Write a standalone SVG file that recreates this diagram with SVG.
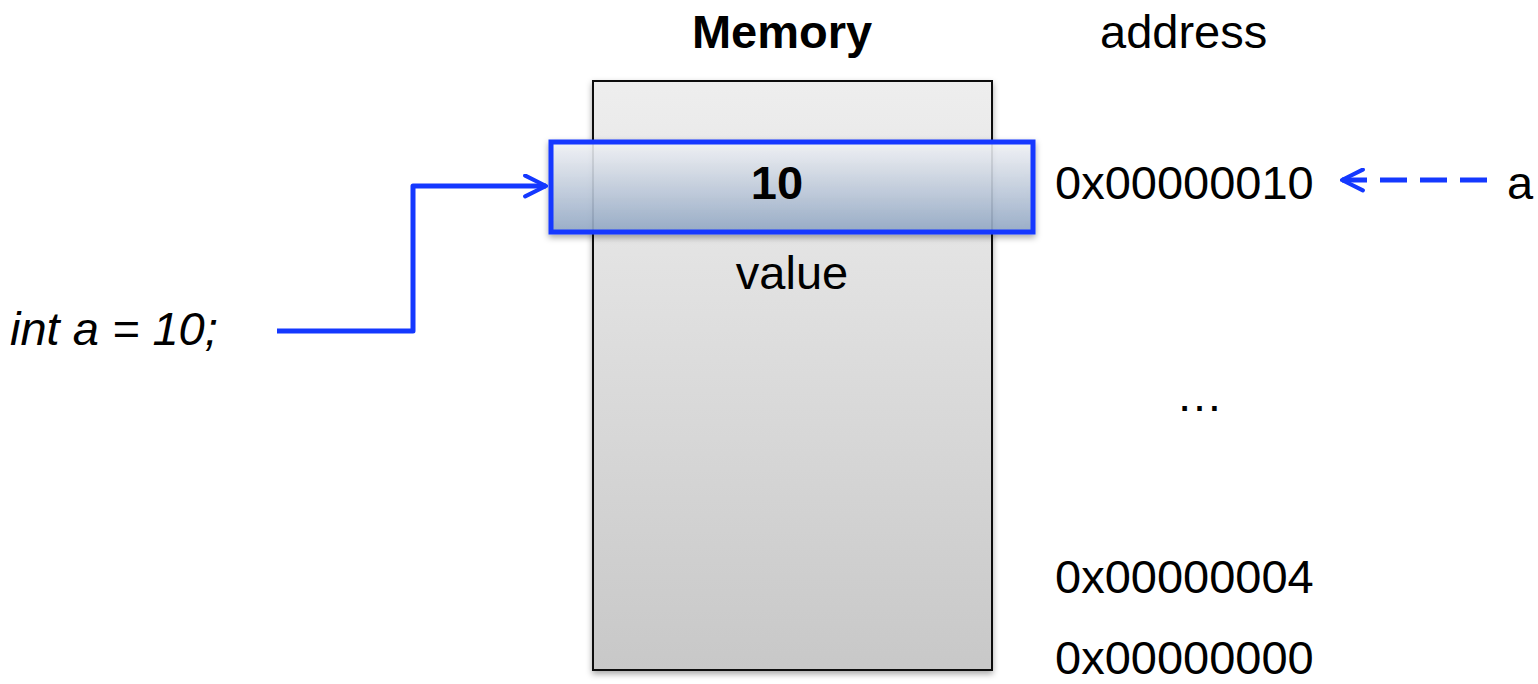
<svg xmlns="http://www.w3.org/2000/svg" width="1538" height="684" viewBox="0 0 1538 684">
  <defs>
    <style>
      text { font-family: "Liberation Sans", Arial, sans-serif; font-size: 47px; fill: #000; }
      .bold { font-weight: bold; }
      .mid { text-anchor: middle; }
      .wire { fill: none; stroke: #1438ff; stroke-width: 5; stroke-linejoin: round; }
    </style>
    <linearGradient id="memFill" x1="0" y1="0" x2="0" y2="1">
      <stop offset="0" stop-color="#eeeeee"/>
      <stop offset="1" stop-color="#c8c8c8"/>
    </linearGradient>
    <linearGradient id="cellFill" x1="0" y1="0" x2="0" y2="1">
      <stop offset="0" stop-color="#f6f7fa" stop-opacity="0.85"/>
      <stop offset="1" stop-color="#93a9c6" stop-opacity="0.88"/>
    </linearGradient>
    <filter id="shadow" x="-10%" y="-10%" width="120%" height="130%">
      <feDropShadow dx="0" dy="3" stdDeviation="3" flood-color="#000" flood-opacity="0.35"/>
    </filter>
    <marker id="openArrow" viewBox="0 0 12 12" refX="11" refY="6" markerWidth="5" markerHeight="5" markerUnits="strokeWidth" orient="auto">
      <path d="M1,1 L11,6 L1,11" fill="none" stroke="#1438ff" stroke-width="2" stroke-linecap="round" stroke-linejoin="round"/>
    </marker>
  </defs>

  <!-- headings -->
  <text class="bold mid" x="782" y="48">Memory</text>
  <text x="1100" y="48">address</text>

  <!-- memory block -->
  <g id="memory">
    <rect x="593" y="81" width="399" height="589" fill="url(#memFill)" stroke="#111" stroke-width="2" filter="url(#shadow)"/>
    <text class="mid" x="792" y="289">value</text>
  </g>

  <!-- highlighted cell holding a -->
  <g id="cell">
    <rect x="551" y="142" width="482" height="90" fill="url(#cellFill)" stroke="#1438ff" stroke-width="5" filter="url(#shadow)"/>
    <text class="bold mid" x="777" y="199">10</text>
  </g>

  <!-- address labels -->
  <g id="addresses">
    <text x="1055" y="199">0x00000010</text>
    <text x="1176" y="411">…</text>
    <text x="1055" y="593">0x00000004</text>
    <text x="1055" y="674">0x00000000</text>
  </g>

  <!-- declaration -->
  <g id="decl">
    <text x="10" y="345" font-style="italic" font-size="49">int a = 10;</text>
  </g>

  <!-- variable name -->
  <g id="var">
    <text x="1507" y="199">a</text>
  </g>

  <!-- connectors -->
  <g id="connectors">
    <path class="wire" d="M277,331 H413 V186 H546" marker-end="url(#openArrow)"/>
    <path class="wire" d="M1487,180 H1342" stroke-dasharray="27 13" marker-end="url(#openArrow)"/>
  </g>
</svg>
